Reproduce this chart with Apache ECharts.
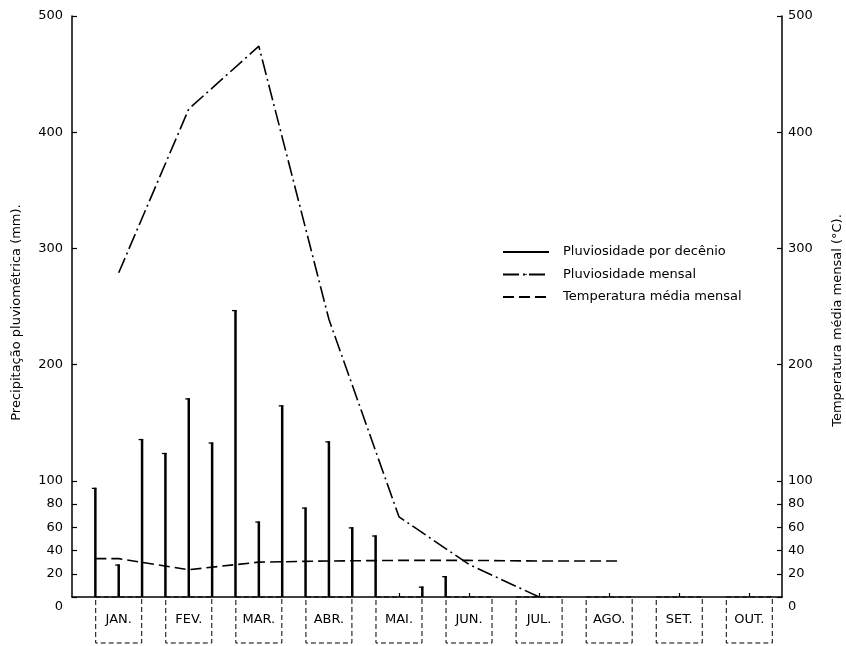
<!DOCTYPE html>
<html><head><meta charset="utf-8">
<script src="https://cdn.jsdelivr.net/npm/echarts@6/dist/echarts.min.js"></script>
<style>html,body{margin:0;padding:0;background:#fff}#c{width:846px;height:646px}</style>
</head><body><div id="c"></div>
<script>
const months = ['JAN.','FEV.','MAR.','ABR.','MAI.','JUN.','JUL.','AGO.','SET.','OUT.'];
const monthMidIdx = [1,4,7,10,13,16,19,22,25,28];
const decendioRain = [94,28,136, 124,171,133, 247,65,165, 77,134,60, 53,0,9, 18,0,0, 0,0,0, 0,0,0, 0,0,0, 0,0,0];
const monthlyRainX = [1,4,7,10,13,16,19];
const monthlyRain = [279,420,474,239,69,28,0];
const tempX = [0,1,4,7,10,13,16,19,22,22.5];
const temp = [33,33,23.5,30,31,31.5,31.5,31,31,31];
const yTicks = [0,20,40,60,80,100,200,300,400,500];

const FONT = 'DejaVu Sans';
const chart = echarts.init(document.getElementById('c'), null, {renderer:'canvas'});
function yAxisCfg(side, name){
  return {
    type:'value', position:side, min:0, max:500, interval:20,
    name:name, nameLocation:'middle', nameRotate:90, nameGap: side==='left'?48.5:49.5, nameMoveOverlap:false,
    nameTextStyle:{fontFamily:FONT, fontSize:13, color:'#000', padding: side==='left'?[0,12,0,0]:[0,28,0,0]},
    axisLine:{show:true, onZero:false, lineStyle:{color:'#000', width:1.5}},
    axisTick:{show:true, inside:true, length:5, customValues:yTicks, lineStyle:{color:'#000', width:1.2}},
    axisLabel:{customValues:yTicks, fontFamily:FONT, fontSize:13, color:'#000', margin: side==='left'?9:6,
      formatter:v=> v===0 ? '{z|0}' : String(v),
      rich:{z:{fontFamily:FONT, fontSize:13, color:'#000', padding:[20,0,0,0]}}},
    splitLine:{show:false}
  };
}
chart.setOption({
  animation:false,
  backgroundColor:'#fff',
  grid:{left:72, right:64, top:16, bottom:49, containLabel:false, outerBoundsMode:'none'},
  legend:{
    orient:'vertical', left:502, top:245.5, padding:0, itemWidth:46, itemHeight:2, itemGap:9.5,
    textStyle:{fontFamily:FONT, fontSize:13, color:'#000', padding:[0,0,0,9]},
    data:[{name:'Pluviosidade por decênio', icon:'rect'}, {name:'Pluviosidade mensal'}, {name:'Temperatura média mensal'}]
  },
  xAxis:{
    type:'value', min:-1, max:29.4,
    axisLine:{show:true, onZero:false, lineStyle:{color:'#000', width:1.5}},
    axisTick:{show:true, inside:true, length:4, customValues:monthMidIdx, lineStyle:{color:'#000', width:1.2}},
    axisLabel:{customValues:monthMidIdx, margin:0,
      formatter:v=>months[monthMidIdx.indexOf(v)] || '',
      fontFamily:FONT, fontSize:13, color:'#000',
      width:46, height:46, lineHeight:46, align:'center',
      borderColor:'#000', borderWidth:1, borderType:[5,3]},
    splitLine:{show:false}
  },
  yAxis:[yAxisCfg('left','Precipitação pluviométrica (mm).'), yAxisCfg('right','Temperatura média mensal (°C).')],
  series:[
    {
      name:'Pluviosidade por decênio', type:'custom', xAxisIndex:0, yAxisIndex:0,
      itemStyle:{color:'#000'},
      data: decendioRain.map((v,i)=>[i,v]),
      renderItem:function(params, api){
        const x = api.value(0), v = api.value(1);
        if (!v) return null;
        const top = api.coord([x, v]);
        const base = api.coord([x, 0]);
        return {type:'group', children:[
          {type:'line', shape:{x1:top[0], y1:base[1], x2:top[0], y2:top[1]}, style:{stroke:'#000', lineWidth:2.5}},
          {type:'line', shape:{x1:top[0]-3.5, y1:top[1]+0.6, x2:top[0]+1, y2:top[1]+0.6}, style:{stroke:'#000', lineWidth:1.3}}
        ]};
      }
    },
    {
      name:'Pluviosidade mensal', type:'line', xAxisIndex:0, yAxisIndex:0,
      data: monthlyRainX.map((x,i)=>[x, monthlyRain[i]]),
      symbol:'none', color:'#000',
      lineStyle:{color:'#000', width:1.6, type:[16,4,2,4]}
    },
    {
      name:'Temperatura média mensal', type:'line', xAxisIndex:0, yAxisIndex:1,
      data: tempX.map((x,i)=>[x, temp[i]]),
      symbol:'none', color:'#000',
      lineStyle:{color:'#000', width:1.6, type:[11,5]}
    }
  ]
});
</script></body></html>
